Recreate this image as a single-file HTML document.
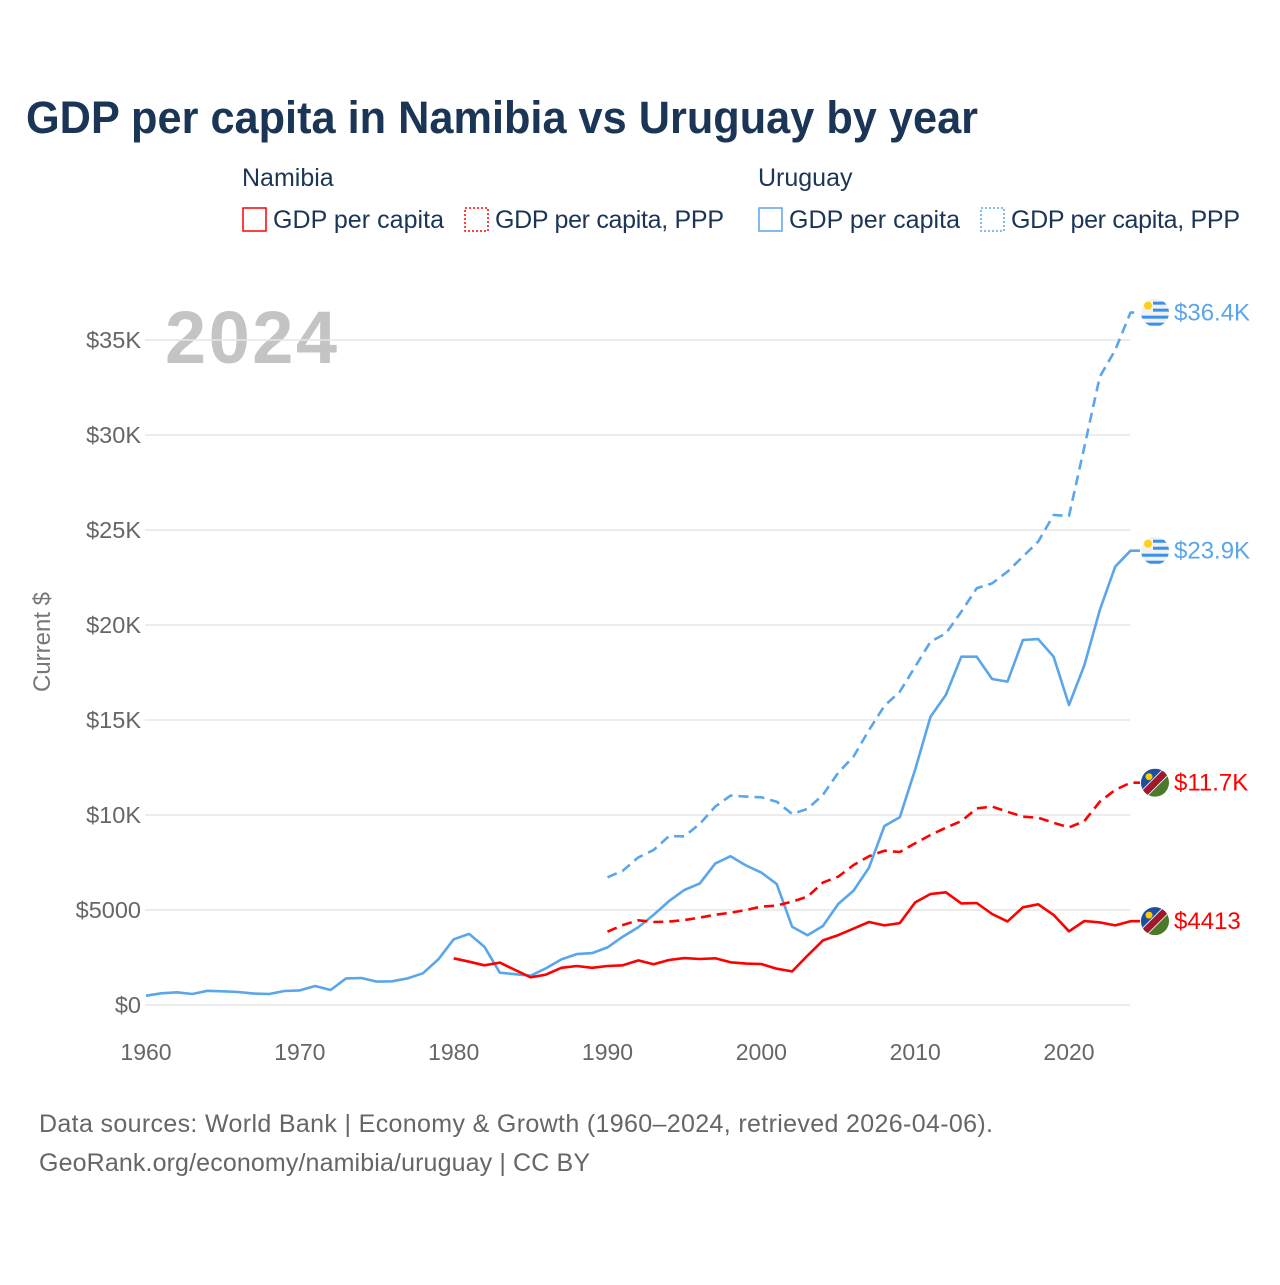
<!DOCTYPE html>
<html><head><meta charset="utf-8"><style>
body{margin:0;background:#fff;font-family:"Liberation Sans",sans-serif}
svg text{font-family:"Liberation Sans",sans-serif}
</style></head><body>
<svg id="chart" width="1280" height="1280" viewBox="0 0 1280 1280" xmlns="http://www.w3.org/2000/svg">
<defs>
<clipPath id="cf1"><circle cx="0" cy="0" r="14"/></clipPath>
</defs>
<rect width="1280" height="1280" fill="#fff"/>
<text x="26" y="133" font-size="45" font-weight="bold" fill="#1b3556" textLength="952" lengthAdjust="spacingAndGlyphs">GDP per capita in Namibia vs Uruguay by year</text>
<g font-size="25" fill="#1b3556">
<text x="242" y="186">Namibia</text>
<text x="758" y="186">Uruguay</text>
<g><rect x="243" y="208" width="23" height="23" fill="none" stroke="#ff0000" stroke-width="1.5"/><text x="273" y="228" textLength="171">GDP per capita</text></g>
<g><rect x="465" y="208" width="23" height="23" fill="none" stroke="#ff0000" stroke-width="1.5" stroke-dasharray="2,2"/><text x="495" y="228" textLength="229">GDP per capita, PPP</text></g>
<g><rect x="759" y="208" width="23" height="23" fill="none" stroke="#5ba6ea" stroke-width="1.5"/><text x="789" y="228" textLength="171">GDP per capita</text></g>
<g><rect x="981" y="208" width="23" height="23" fill="none" stroke="#5ba6ea" stroke-width="1.5" stroke-dasharray="2,2"/><text x="1011" y="228" textLength="229">GDP per capita, PPP</text></g>
</g>
<text x="165" y="363" font-size="74" font-weight="bold" fill="#c4c4c4" textLength="172">2024</text>
<text transform="translate(50,642) rotate(-90)" text-anchor="middle" font-size="24" fill="#777">Current $</text>
<g id="grid"></g><g id="yt"></g><g id="xt"></g><g id="lines"></g><g id="ends"></g>
<text x="39" y="1132" font-size="25" fill="#666" textLength="954">Data sources: World Bank | Economy &amp; Growth (1960–2024, retrieved 2026-04-06).</text>
<text x="39" y="1171" font-size="25" fill="#666" textLength="551">GeoRank.org/economy/namibia/uruguay | CC BY</text>
</svg>
<script>
const yTicks=[0,5000,10000,15000,20000,25000,30000,35000];
const yTickLabels=["$0","$5000","$10K","$15K","$20K","$25K","$30K","$35K"];
const xTicks=[1960,1970,1980,1990,2000,2010,2020];
const uryGdpStart=1960;
const uryGdp=[490,615,670,580,750,720,685,600,580,735,770,1000,790,1400,1420,1230,1250,1400,1670,2400,3460,3740,3070,1700,1620,1540,1930,2400,2680,2730,3030,3600,4090,4740,5470,6050,6400,7440,7830,7340,6970,6370,4120,3670,4160,5320,6020,7230,9420,9880,12400,15170,16320,18330,18330,17160,17020,19210,19260,18330,15790,17890,20790,23070,23910];
const uryPppStart=1990;
const uryPpp=[6720,7070,7770,8160,8890,8880,9530,10440,11020,10970,10930,10700,10060,10320,11060,12230,13080,14470,15740,16490,17810,19120,19560,20700,21930,22190,22810,23600,24390,25790,25740,29390,33070,34470,36440];
const namGdpStart=1980;
const namGdp=[2460,2280,2090,2230,1840,1460,1600,1960,2050,1960,2050,2090,2350,2140,2370,2470,2420,2460,2250,2180,2160,1910,1770,2600,3400,3680,4020,4370,4190,4310,5400,5840,5930,5350,5370,4790,4400,5140,5300,4740,3880,4420,4350,4190,4413];
const namPppStart=1990;
const namPpp=[3860,4210,4460,4370,4390,4470,4600,4750,4860,5000,5180,5230,5440,5700,6440,6760,7370,7830,8120,8050,8510,8950,9330,9680,10350,10440,10170,9910,9860,9590,9350,9680,10700,11320,11700];
const endLabels=["$36.4K","$23.9K","$11.7K","$4413"];

const NS="http://www.w3.org/2000/svg";
const X=yr=>146+(yr-1960)*(1069-146)/60;
const Y=v=>1005-v*(665/35000);
function mk(tag,attrs,parent,txt){const e=document.createElementNS(NS,tag);for(const k in attrs)e.setAttribute(k,attrs[k]);if(txt!==undefined)e.textContent=txt;parent.appendChild(e);return e;}
const grid=document.getElementById('grid'),yt=document.getElementById('yt'),xt=document.getElementById('xt'),lines=document.getElementById('lines'),ends=document.getElementById('ends');
yTicks.forEach((v,i)=>{
 const l=mk('line',{x1:145,x2:1130,y1:Y(v),y2:Y(v),stroke:'#e6e6e6','stroke-width':1.5},grid);
 
 
 const t=mk('text',{x:141,y:Y(v)+8,'text-anchor':'end','font-size':23.5,fill:'#666'},yt,yTickLabels[i]);
 
 
});
xTicks.forEach(yr=>{
 const t=mk('text',{x:X(yr),y:1060,'text-anchor':'middle','font-size':23,fill:'#666'},xt,String(yr));
 
 
});
function series(start,vals,color,dash,name){
 const pts=vals.map((v,i)=>X(start+i).toFixed(1)+','+Y(v).toFixed(1));
 const last=vals[vals.length-1];
 pts.push('1140,'+Y(last).toFixed(1));
 const p=mk('polyline',{points:pts.join(' '),fill:'none',stroke:color,'stroke-width':2.6,'stroke-linejoin':'round'},lines);
 if(dash)p.setAttribute('stroke-dasharray','10,6');
 
 
 return Y(last);
}
const yU1=series(uryPppStart,uryPpp,'#5ba6ea',true,'uruguay-ppp-line');
const yU2=series(uryGdpStart,uryGdp,'#5ba6ea',false,'uruguay-gdp-line');
const yN1=series(namPppStart,namPpp,'#ff0000',true,'namibia-ppp-line');
const yN2=series(namGdpStart,namGdp,'#ff0000',false,'namibia-gdp-line');
function flagU(cy){
 const g=mk('g',{transform:'translate(1155,'+cy+')'},ends);
 
 
 const c=mk('g',{'clip-path':'url(#cf1)'},g);
 mk('rect',{x:-14,y:-14,width:28,height:28,fill:'#f2f2f2'},c);
 [-10,-3,4,11].forEach(o=>mk('rect',{x:(o<0?-2:-14),y:o-1,width:30,height:3,fill:'#3a8fe8'},c));
 mk('circle',{cx:-7,cy:-7,r:4,fill:'#fcd116'},c);
}
function flagN(cy){
 const g=mk('g',{transform:'translate(1155,'+cy+')'},ends);
 
 
 const c=mk('g',{'clip-path':'url(#cf1)'},g);
 mk('rect',{x:-14,y:-14,width:28,height:28,fill:'#4a7a2a'},c);
 mk('polygon',{points:'-14,-14 14,-14 -14,14',fill:'#1c4fa0'},c);
 mk('polygon',{points:'10,-16 16,-10 -10,16 -16,10',fill:'#fff'},c);
 mk('polygon',{points:'11,-13 13,-11 -11,13 -13,11',fill:'#a0182c','stroke':'#a0182c','stroke-width':4},c);
 mk('circle',{cx:-6,cy:-6,r:3.5,fill:'#ffce00'},c);
}
function lab(cy,txt,color){
 const t=mk('text',{x:1174,y:cy+8,'font-size':24,fill:color},ends,txt);
 
 
}
flagU(yU1);lab(yU1,endLabels[0],'#5ba6ea');
flagU(yU2);lab(yU2,endLabels[1],'#5ba6ea');
flagN(yN1);lab(yN1,endLabels[2],'#ff0000');
flagN(yN2);lab(yN2,endLabels[3],'#ff0000');
</script>
</body></html>
